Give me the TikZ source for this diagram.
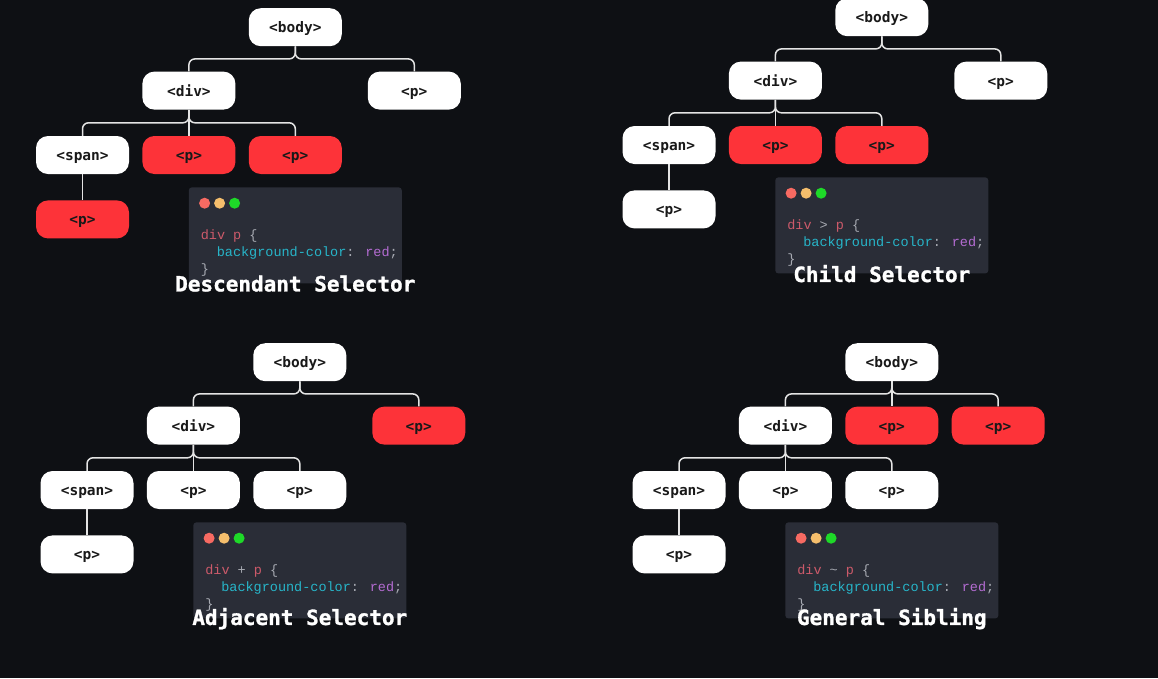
\documentclass[tikz,border=0pt]{standalone}
\usepackage{fontspec}
\usetikzlibrary{positioning,calc}

\newfontfamily\tagfont{DejaVu Sans Mono}
\newfontfamily\titlefont{DejaVu Sans Mono Bold}[FakeBold=1.2]
\newfontfamily\codefont{Liberation Mono}

\definecolor{bg}{HTML}{0E1014}
\definecolor{nodered}{HTML}{FD3339}
\definecolor{codebg}{HTML}{2A2D37}
\definecolor{dotred}{HTML}{F76A62}
\definecolor{dotyellow}{HTML}{F5BE6C}
\definecolor{dotgreen}{HTML}{1ED928}
\definecolor{kw}{HTML}{CC5A6A}
\definecolor{prop}{HTML}{27B5C9}
\definecolor{val}{HTML}{B46CD2}
\definecolor{punc}{HTML}{A7AAB2}
\definecolor{wire}{HTML}{E4E4E4}

\begin{document}
\begin{tikzpicture}[x=1pt, y=1pt, node distance=26pt and 13pt,
    tagbox/.style={rectangle, rounded corners=12pt, fill=white, text=black!90, minimum width=93pt, minimum height=38pt, inner sep=0pt, text height=12pt, text depth=1pt, font=\tagfont\bfseries\fontsize{14.5}{16}\selectfont},
    hit/.style={tagbox, fill=nodered},
    link/.style={draw=wire, line width=1.5pt, rounded corners=6pt},
    window/.style={rectangle, rounded corners=3pt, fill=codebg, minimum width=213pt, minimum height=96pt, inner sep=0pt},
    codeline/.style={anchor=west, inner sep=0pt, font=\codefont\fontsize{13.5}{16}\selectfont},
    caption/.style={text=white, inner sep=0pt, font=\titlefont\fontsize{21}{24}\selectfont}]

    \fill[bg] (0,0) rectangle (1158,-678);
    \useasboundingbox (0,0) rectangle (1158,-678);

    % descendant selector
    \node (span1) [tagbox] at (82.5,-155) {<span>};
    \node (pb1) [hit, right=of span1] {<p>};
    \node (pc1) [hit, right=of pb1] {<p>};
    \node (pd1) [hit, below=of span1] {<p>};
    \node (div1) [tagbox, above=of pb1] {<div>};
    \node (body1) [tagbox, above right=25pt and 13pt of div1] {<body>};
    \node (pa1) [tagbox, right=132pt of div1] {<p>};

    \draw[link] (body1.south) -- ++(0,-12.5) -| (div1.north);
    \draw[link] (body1.south) -- ++(0,-12.5) -| (pa1.north);
    \draw[link] (div1.south) -- ++(0,-13) -| (span1.north);
    \draw[link] (div1.south) -- (pb1.north);
    \draw[link] (div1.south) -- ++(0,-13) -| (pc1.north);
    \draw[link] (span1.south) -- (pd1.north);

    \node (code1) [window, below=13pt of pc1] {};
    \fill[dotred] ($(code1.north west)+(16,-16)$) circle (5.5);
    \fill[dotyellow] ($(code1.north west)+(31,-16)$) circle (5.5);
    \fill[dotgreen] ($(code1.north west)+(46,-16)$) circle (5.5);
    \node (c1a) [codeline] at ($(code1.north west)+(12,-49)$) {\color{kw}div p \color{punc}\{};
    \node (c1b) [codeline] at ($(code1.north west)+(28,-66)$) {\color{prop}background-color\color{punc}: \color{val}red\color{punc};};
    \node (c1c) [codeline, text=punc] at ($(code1.north west)+(12,-83)$) {\}};
    \node (title1) [caption] at (code1.south) {Descendant Selector};

    % child selector
    \node (span2) [tagbox] at (669,-145) {<span>};
    \node (pb2) [hit, right=of span2] {<p>};
    \node (pc2) [hit, right=of pb2] {<p>};
    \node (pd2) [tagbox, below=of span2] {<p>};
    \node (div2) [tagbox, above=of pb2] {<div>};
    \node (body2) [tagbox, above right=25pt and 13pt of div2] {<body>};
    \node (pa2) [tagbox, right=132pt of div2] {<p>};

    \draw[link] (body2.south) -- ++(0,-12.5) -| (div2.north);
    \draw[link] (body2.south) -- ++(0,-12.5) -| (pa2.north);
    \draw[link] (div2.south) -- ++(0,-13) -| (span2.north);
    \draw[link] (div2.south) -- (pb2.north);
    \draw[link] (div2.south) -- ++(0,-13) -| (pc2.north);
    \draw[link] (span2.south) -- (pd2.north);

    \node (code2) [window, below=13pt of pc2] {};
    \fill[dotred] ($(code2.north west)+(16,-16)$) circle (5.5);
    \fill[dotyellow] ($(code2.north west)+(31,-16)$) circle (5.5);
    \fill[dotgreen] ($(code2.north west)+(46,-16)$) circle (5.5);
    \node (c2a) [codeline] at ($(code2.north west)+(12,-49)$) {\color{kw}div \color{punc}> \color{kw}p \color{punc}\{};
    \node (c2b) [codeline] at ($(code2.north west)+(28,-66)$) {\color{prop}background-color\color{punc}: \color{val}red\color{punc};};
    \node (c2c) [codeline, text=punc] at ($(code2.north west)+(12,-83)$) {\}};
    \node (title2) [caption] at (code2.south) {Child Selector};

    % adjacent selector
    \node (span3) [tagbox] at (87,-490) {<span>};
    \node (pb3) [tagbox, right=of span3] {<p>};
    \node (pc3) [tagbox, right=of pb3] {<p>};
    \node (pd3) [tagbox, below=of span3] {<p>};
    \node (div3) [tagbox, above=of pb3] {<div>};
    \node (body3) [tagbox, above right=25pt and 13pt of div3] {<body>};
    \node (pa3) [hit, right=132pt of div3] {<p>};

    \draw[link] (body3.south) -- ++(0,-12.5) -| (div3.north);
    \draw[link] (body3.south) -- ++(0,-12.5) -| (pa3.north);
    \draw[link] (div3.south) -- ++(0,-13) -| (span3.north);
    \draw[link] (div3.south) -- (pb3.north);
    \draw[link] (div3.south) -- ++(0,-13) -| (pc3.north);
    \draw[link] (span3.south) -- (pd3.north);

    \node (code3) [window, below=13pt of pc3] {};
    \fill[dotred] ($(code3.north west)+(16,-16)$) circle (5.5);
    \fill[dotyellow] ($(code3.north west)+(31,-16)$) circle (5.5);
    \fill[dotgreen] ($(code3.north west)+(46,-16)$) circle (5.5);
    \node (c3a) [codeline] at ($(code3.north west)+(12,-49)$) {\color{kw}div \color{punc}+ \color{kw}p \color{punc}\{};
    \node (c3b) [codeline] at ($(code3.north west)+(28,-66)$) {\color{prop}background-color\color{punc}: \color{val}red\color{punc};};
    \node (c3c) [codeline, text=punc] at ($(code3.north west)+(12,-83)$) {\}};
    \node (title3) [caption] at (code3.south) {Adjacent Selector};

    % general sibling
    \node (span4) [tagbox] at (679,-490) {<span>};
    \node (pb4) [tagbox, right=of span4] {<p>};
    \node (pc4) [tagbox, right=of pb4] {<p>};
    \node (pd4) [tagbox, below=of span4] {<p>};
    \node (div4) [tagbox, above=of pb4] {<div>};
    \node (pa4) [hit, right=of div4] {<p>};
    \node (pe4) [hit, right=of pa4] {<p>};
    \node (body4) [tagbox, above=25pt of pa4] {<body>};

    \draw[link] (body4.south) -- ++(0,-12.5) -| (div4.north);
    \draw[link] (body4.south) -- (pa4.north);
    \draw[link] (body4.south) -- ++(0,-12.5) -| (pe4.north);
    \draw[link] (div4.south) -- ++(0,-13) -| (span4.north);
    \draw[link] (div4.south) -- (pb4.north);
    \draw[link] (div4.south) -- ++(0,-13) -| (pc4.north);
    \draw[link] (span4.south) -- (pd4.north);

    \node (code4) [window, below=13pt of pc4] {};
    \fill[dotred] ($(code4.north west)+(16,-16)$) circle (5.5);
    \fill[dotyellow] ($(code4.north west)+(31,-16)$) circle (5.5);
    \fill[dotgreen] ($(code4.north west)+(46,-16)$) circle (5.5);
    \node (c4a) [codeline] at ($(code4.north west)+(12,-49)$) {\color{kw}div \color{punc}\textasciitilde{} \color{kw}p \color{punc}\{};
    \node (c4b) [codeline] at ($(code4.north west)+(28,-66)$) {\color{prop}background-color\color{punc}: \color{val}red\color{punc};};
    \node (c4c) [codeline, text=punc] at ($(code4.north west)+(12,-83)$) {\}};
    \node (title4) [caption] at (code4.south) {General Sibling};
\end{tikzpicture}
\end{document}
